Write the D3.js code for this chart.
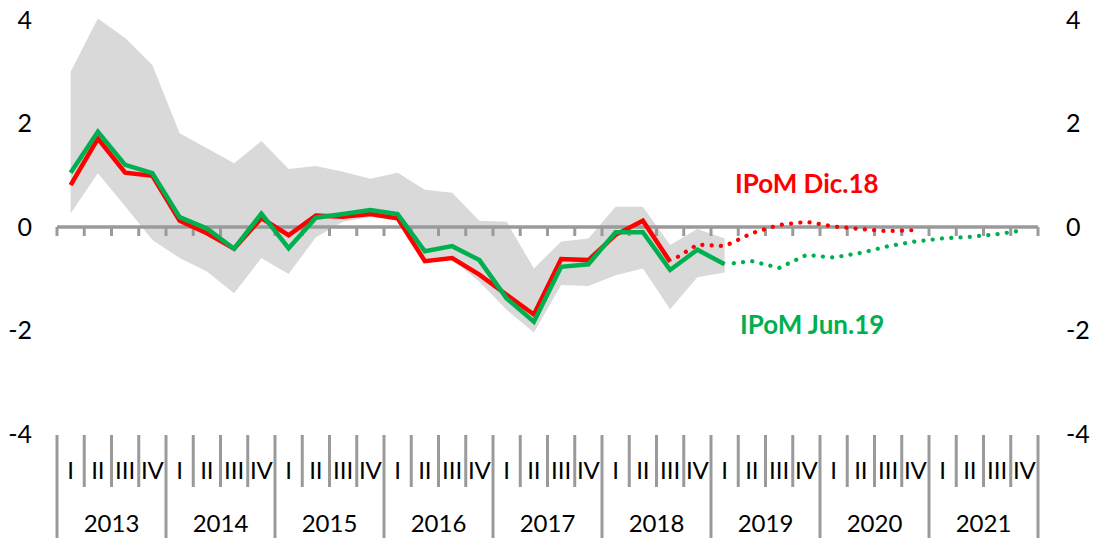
<!DOCTYPE html>
<html>
<head>
<meta charset="utf-8">
<script src="https://cdn.jsdelivr.net/npm/d3@7"></script>
<style>
  html, body { margin: 0; padding: 0; background: #fff; }
  svg { display: block; }
</style>
</head>
<body>
<svg id="chart"></svg>
<script>
// chart size
const WIDTH = 1093;
const HEIGHT = 538;

// data
const years = ["2013", "2014", "2015", "2016", "2017", "2018", "2019", "2020", "2021"];
const quarters = ["I", "II", "III", "IV"];
const yTicks = [-4, -2, 0, 2, 4];

// grey band, 2013.I - 2019.I
const bandUpper = [3.0, 4.03, 3.65, 3.13, 1.81, 1.52, 1.23, 1.66, 1.12, 1.18, 1.07, 0.93, 1.05,
  0.72, 0.66, 0.12, 0.10, -0.80, -0.28, -0.22, 0.39, 0.39, -0.35, -0.04, -0.22];
const bandLower = [0.26, 1.04, 0.40, -0.25, -0.60, -0.86, -1.28, -0.60, -0.91, -0.20, 0.10, 0.20, 0.12,
  -0.68, -0.63, -1.06, -1.60, -2.04, -1.12, -1.14, -0.93, -0.80, -1.59, -0.97, -0.88];

// IPoM Dic.18, 2013.I - 2020.IV
const redValues = [0.81, 1.71, 1.05, 0.99, 0.12, -0.12, -0.42, 0.17, -0.16, 0.22, 0.20, 0.25, 0.17,
  -0.66, -0.60, -0.92, -1.31, -1.69, -0.62, -0.64, -0.15, 0.12, -0.67,
  -0.34, -0.37, -0.12, 0.04, 0.10, 0.01, -0.04, -0.08, -0.06];
const redLastActual = 22;

// IPoM Jun.19, 2013.I - 2021.IV
const greenValues = [1.05, 1.84, 1.20, 1.04, 0.19, -0.03, -0.42, 0.26, -0.41, 0.18, 0.25, 0.33, 0.25,
  -0.47, -0.37, -0.64, -1.38, -1.83, -0.77, -0.72, -0.10, -0.10, -0.83, -0.44, -0.72,
  -0.66, -0.79, -0.54, -0.59, -0.50, -0.37, -0.28, -0.22, -0.19, -0.14, -0.06];
const greenLastActual = 24;

const RED = "#ff0000";
const GREEN = "#00b050";
const GREY = "#9a9a9a";
const FONT = "Lato, 'Open Sans', sans-serif";

// quarter index list
const periods = years.flatMap(y => quarters.map(q => y + q));

// scales
const xScale = d3.scaleBand()
  .domain(d3.range(periods.length))
  .range([57, 1038])
  .padding(0);

const xYear = d3.scaleBand()
  .domain(years)
  .range([57, 1038]);

const yScale = d3.scaleLinear()
  .domain([-4, 4])
  .range([434, 20]);

const xc = i => xScale(i) + xScale.bandwidth() / 2;

const svg = d3.select("#chart")
  .attr("width", WIDTH)
  .attr("height", HEIGHT)
  .style("font-family", FONT);

// band
const area = d3.area()
  .x((d, i) => xc(i))
  .y0((d, i) => yScale(bandLower[i]))
  .y1(d => yScale(d));

svg.append("path")
  .datum(bandUpper)
  .attr("d", area)
  .attr("fill", "#d9d9d9");

// zero line with ticks
const boundaries = d3.range(periods.length + 1).map(i => 57 + i * xScale.bandwidth());

svg.append("line")
  .attr("x1", 57)
  .attr("x2", 1038)
  .attr("y1", yScale(0))
  .attr("y2", yScale(0))
  .attr("stroke", GREY)
  .attr("stroke-width", 3.5);

svg.append("g")
  .selectAll("line")
  .data(boundaries)
  .join("line")
    .attr("x1", d => d)
    .attr("x2", d => d)
    .attr("y1", yScale(0))
    .attr("y2", yScale(0) + 9)
    .attr("stroke", GREY)
    .attr("stroke-width", 3);

// y axis labels, both sides
const yLabels = svg.append("g")
  .attr("font-size", 25)
  .attr("fill", "#000");

yLabels.selectAll("text.left")
  .data(yTicks)
  .join("text")
    .attr("class", "left")
    .attr("x", 32)
    .attr("y", d => yScale(d))
    .attr("dy", "0.35em")
    .attr("text-anchor", "end")
    .text(d => d);

yLabels.selectAll("text.right")
  .data(yTicks)
  .join("text")
    .attr("class", "right")
    .attr("x", 1066)
    .attr("y", d => yScale(d))
    .attr("dy", "0.35em")
    .attr("text-anchor", "start")
    .text(d => d);

// lines
const line = d3.line()
  .x(d => xc(d.i))
  .y(d => yScale(d.v));

function drawSeries(values, lastActual, color) {
  const pts = values.map((v, i) => ({ i, v }));
  svg.append("path")
    .datum(pts.slice(0, lastActual + 1))
    .attr("d", line)
    .attr("fill", "none")
    .attr("stroke", color)
    .attr("stroke-width", 4.5)
    .attr("stroke-linejoin", "miter");
  svg.append("path")
    .datum(pts.slice(lastActual))
    .attr("d", line)
    .attr("fill", "none")
    .attr("stroke", color)
    .attr("stroke-width", 4.2)
    .attr("stroke-linecap", "round")
    .attr("stroke-dasharray", "0.1 9.2")
    .attr("stroke-dashoffset", -9.2);
}

drawSeries(redValues, redLastActual, RED);
drawSeries(greenValues, greenLastActual, GREEN);

// series labels
svg.append("text")
  .attr("x", 735)
  .attr("y", 193)
  .attr("font-size", 26)
  .attr("font-weight", "bold")
  .attr("fill", RED)
  .text("IPoM Dic.18");

svg.append("text")
  .attr("x", 740)
  .attr("y", 334)
  .attr("font-size", 26)
  .attr("font-weight", "bold")
  .attr("fill", GREEN)
  .text("IPoM Jun.19");

// category axis at the bottom
const bottom = svg.append("g");

bottom.selectAll("line")
  .data(boundaries)
  .join("line")
    .attr("x1", d => d)
    .attr("x2", d => d)
    .attr("y1", 435)
    .attr("y2", (d, i) => i % 4 === 0 ? 538 : 487)
    .attr("stroke", GREY)
    .attr("stroke-width", 3);

bottom.selectAll("text.q")
  .data(periods)
  .join("text")
    .attr("class", "q")
    .attr("x", (d, i) => xc(i))
    .attr("y", 471)
    .attr("dy", "0.35em")
    .attr("text-anchor", "middle")
    .attr("font-size", 24)
    .text((d, i) => quarters[i % 4]);

bottom.selectAll("text.y")
  .data(years)
  .join("text")
    .attr("class", "y")
    .attr("x", d => xYear(d) + xYear.bandwidth() / 2)
    .attr("y", 524)
    .attr("dy", "0.35em")
    .attr("text-anchor", "middle")
    .attr("font-size", 24)
    .text(d => d);
</script>
</body>
</html>
